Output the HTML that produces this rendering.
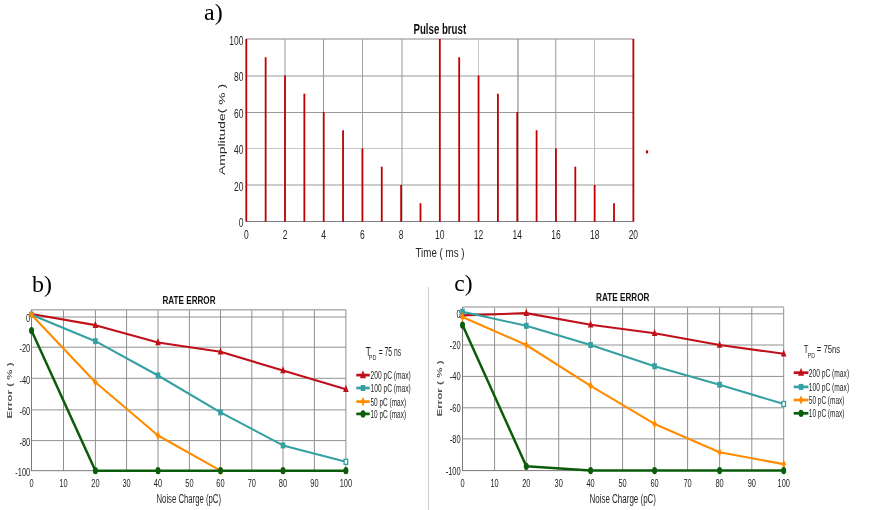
<!DOCTYPE html>
<html><head><meta charset="utf-8"><title>Pulse burst and rate error charts</title>
<style>
html,body{margin:0;padding:0;background:#fff;}
body{width:876px;height:510px;overflow:hidden;}
svg{display:block;}
</style></head>
<body>
<svg width="876" height="510" viewBox="0 0 876 510">
<rect width="876" height="510" fill="#fff"/>
<line x1="246.29" y1="39" x2="633.37" y2="39" stroke="#888" stroke-width="1" />
<line x1="246.29" y1="76" x2="633.37" y2="76" stroke="#999" stroke-width="1" />
<line x1="246.29" y1="112.5" x2="633.37" y2="112.5" stroke="#999" stroke-width="1" />
<line x1="246.29" y1="148.5" x2="633.37" y2="148.5" stroke="#c8c8c8" stroke-width="1" />
<line x1="246.29" y1="185" x2="633.37" y2="185" stroke="#999" stroke-width="1" />
<line x1="285" y1="39" x2="285" y2="221.5" stroke="#999" stroke-width="1" />
<line x1="323.5" y1="39" x2="323.5" y2="221.5" stroke="#999" stroke-width="1" />
<line x1="362.5" y1="39" x2="362.5" y2="221.5" stroke="#a0a0a0" stroke-width="1" />
<line x1="402" y1="39" x2="402" y2="221.5" stroke="#999" stroke-width="1" />
<line x1="478.5" y1="39" x2="478.5" y2="221.5" stroke="#c8c8c8" stroke-width="1" />
<line x1="518" y1="39" x2="518" y2="221.5" stroke="#888" stroke-width="1.1" />
<line x1="555.8" y1="39" x2="555.8" y2="221.5" stroke="#999" stroke-width="1" />
<line x1="594.5" y1="39" x2="594.5" y2="221.5" stroke="#bbb" stroke-width="1" />
<line x1="246.29" y1="221.5" x2="633.37" y2="221.5" stroke="#7f7f7f" stroke-width="1" />
<line x1="246.29" y1="39" x2="246.29" y2="221.7" stroke="#c00000" stroke-width="1.8" />
<line x1="265.64" y1="57.24" x2="265.64" y2="221.7" stroke="#c00000" stroke-width="1.8" />
<line x1="285" y1="75.48" x2="285" y2="221.7" stroke="#c00000" stroke-width="1.8" />
<line x1="304.35" y1="93.72" x2="304.35" y2="221.7" stroke="#c00000" stroke-width="1.8" />
<line x1="323.71" y1="111.96" x2="323.71" y2="221.7" stroke="#c00000" stroke-width="1.8" />
<line x1="343.06" y1="130.2" x2="343.06" y2="221.7" stroke="#c00000" stroke-width="1.8" />
<line x1="362.41" y1="148.44" x2="362.41" y2="221.7" stroke="#c00000" stroke-width="1.8" />
<line x1="381.77" y1="166.68" x2="381.77" y2="221.7" stroke="#c00000" stroke-width="1.8" />
<line x1="401.12" y1="184.92" x2="401.12" y2="221.7" stroke="#c00000" stroke-width="1.8" />
<line x1="420.48" y1="203.16" x2="420.48" y2="221.7" stroke="#c00000" stroke-width="1.8" />
<line x1="439.83" y1="39" x2="439.83" y2="221.7" stroke="#c00000" stroke-width="1.8" />
<line x1="459.18" y1="57.24" x2="459.18" y2="221.7" stroke="#c00000" stroke-width="1.8" />
<line x1="478.54" y1="75.48" x2="478.54" y2="221.7" stroke="#c00000" stroke-width="1.8" />
<line x1="497.89" y1="93.72" x2="497.89" y2="221.7" stroke="#c00000" stroke-width="1.8" />
<line x1="517.25" y1="111.96" x2="517.25" y2="221.7" stroke="#c00000" stroke-width="1.8" />
<line x1="536.6" y1="130.2" x2="536.6" y2="221.7" stroke="#c00000" stroke-width="1.8" />
<line x1="555.95" y1="148.44" x2="555.95" y2="221.7" stroke="#c00000" stroke-width="1.8" />
<line x1="575.31" y1="166.68" x2="575.31" y2="221.7" stroke="#c00000" stroke-width="1.8" />
<line x1="594.66" y1="184.92" x2="594.66" y2="221.7" stroke="#c00000" stroke-width="1.8" />
<line x1="614.02" y1="203.16" x2="614.02" y2="221.7" stroke="#c00000" stroke-width="1.8" />
<line x1="633.37" y1="39" x2="633.37" y2="221.7" stroke="#c00000" stroke-width="1.8" />
<rect x="645.9" y="150.4" width="2.2" height="3" fill="#c00000"/>
<text transform="translate(243.4 227.1) scale(0.68 1)" font-family="'Liberation Sans', Arial, sans-serif" font-size="12.5" font-weight="normal" fill="#262626" text-anchor="end" >0</text>
<text transform="translate(243.4 190.62) scale(0.68 1)" font-family="'Liberation Sans', Arial, sans-serif" font-size="12.5" font-weight="normal" fill="#262626" text-anchor="end" >20</text>
<text transform="translate(243.4 154.14) scale(0.68 1)" font-family="'Liberation Sans', Arial, sans-serif" font-size="12.5" font-weight="normal" fill="#262626" text-anchor="end" >40</text>
<text transform="translate(243.4 117.66) scale(0.68 1)" font-family="'Liberation Sans', Arial, sans-serif" font-size="12.5" font-weight="normal" fill="#262626" text-anchor="end" >60</text>
<text transform="translate(243.4 81.18) scale(0.68 1)" font-family="'Liberation Sans', Arial, sans-serif" font-size="12.5" font-weight="normal" fill="#262626" text-anchor="end" >80</text>
<text transform="translate(243.4 44.7) scale(0.68 1)" font-family="'Liberation Sans', Arial, sans-serif" font-size="12.5" font-weight="normal" fill="#262626" text-anchor="end" >100</text>
<text transform="translate(246.29 238.7) scale(0.68 1)" font-family="'Liberation Sans', Arial, sans-serif" font-size="12.5" font-weight="normal" fill="#262626" text-anchor="middle" >0</text>
<text transform="translate(285 238.7) scale(0.68 1)" font-family="'Liberation Sans', Arial, sans-serif" font-size="12.5" font-weight="normal" fill="#262626" text-anchor="middle" >2</text>
<text transform="translate(323.71 238.7) scale(0.68 1)" font-family="'Liberation Sans', Arial, sans-serif" font-size="12.5" font-weight="normal" fill="#262626" text-anchor="middle" >4</text>
<text transform="translate(362.41 238.7) scale(0.68 1)" font-family="'Liberation Sans', Arial, sans-serif" font-size="12.5" font-weight="normal" fill="#262626" text-anchor="middle" >6</text>
<text transform="translate(401.12 238.7) scale(0.68 1)" font-family="'Liberation Sans', Arial, sans-serif" font-size="12.5" font-weight="normal" fill="#262626" text-anchor="middle" >8</text>
<text transform="translate(439.83 238.7) scale(0.68 1)" font-family="'Liberation Sans', Arial, sans-serif" font-size="12.5" font-weight="normal" fill="#262626" text-anchor="middle" >10</text>
<text transform="translate(478.54 238.7) scale(0.68 1)" font-family="'Liberation Sans', Arial, sans-serif" font-size="12.5" font-weight="normal" fill="#262626" text-anchor="middle" >12</text>
<text transform="translate(517.25 238.7) scale(0.68 1)" font-family="'Liberation Sans', Arial, sans-serif" font-size="12.5" font-weight="normal" fill="#262626" text-anchor="middle" >14</text>
<text transform="translate(555.95 238.7) scale(0.68 1)" font-family="'Liberation Sans', Arial, sans-serif" font-size="12.5" font-weight="normal" fill="#262626" text-anchor="middle" >16</text>
<text transform="translate(594.66 238.7) scale(0.68 1)" font-family="'Liberation Sans', Arial, sans-serif" font-size="12.5" font-weight="normal" fill="#262626" text-anchor="middle" >18</text>
<text transform="translate(633.37 238.7) scale(0.68 1)" font-family="'Liberation Sans', Arial, sans-serif" font-size="12.5" font-weight="normal" fill="#262626" text-anchor="middle" >20</text>
<text transform="translate(413.5 33.7) scale(0.68 1)" font-family="'Liberation Sans', Arial, sans-serif" font-size="14" font-weight="bold" fill="#111" text-anchor="start" textLength="77.35" lengthAdjust="spacingAndGlyphs" >Pulse brust</text>
<text transform="translate(415.5 257) scale(0.68 1)" font-family="'Liberation Sans', Arial, sans-serif" font-size="13.4" font-weight="normal" fill="#262626" text-anchor="start" textLength="72.06" lengthAdjust="spacingAndGlyphs" >Time ( ms )</text>
<text transform="translate(224.7 129.5) scale(0.74 1) rotate(-90)" font-family="'Liberation Sans', Arial, sans-serif" font-size="13.5" font-weight="normal" fill="#262626" text-anchor="middle" textLength="91" lengthAdjust="spacingAndGlyphs">Amplitude( % )</text>
<text transform="translate(204 19.7) scale(1 1)" font-family="'Liberation Serif', 'Times New Roman', serif" font-size="24" font-weight="normal" fill="#000" text-anchor="start" >a)</text>
<line x1="428.5" y1="287" x2="428.5" y2="510" stroke="#cfcfcf" stroke-width="1" />
<line x1="63.5" y1="309.8" x2="63.5" y2="470.7" stroke="#909090" stroke-width="1" />
<line x1="95.4" y1="309.8" x2="95.4" y2="470.7" stroke="#909090" stroke-width="1" />
<line x1="126.6" y1="309.8" x2="126.6" y2="470.7" stroke="#909090" stroke-width="1" />
<line x1="158" y1="309.8" x2="158" y2="470.7" stroke="#909090" stroke-width="1" />
<line x1="189.4" y1="309.8" x2="189.4" y2="470.7" stroke="#909090" stroke-width="1" />
<line x1="220.5" y1="309.8" x2="220.5" y2="470.7" stroke="#909090" stroke-width="1" />
<line x1="251.8" y1="309.8" x2="251.8" y2="470.7" stroke="#909090" stroke-width="1" />
<line x1="283" y1="309.8" x2="283" y2="470.7" stroke="#909090" stroke-width="1" />
<line x1="314.4" y1="309.8" x2="314.4" y2="470.7" stroke="#909090" stroke-width="1" />
<line x1="345.9" y1="309.8" x2="345.9" y2="470.7" stroke="#909090" stroke-width="1" />
<line x1="31.5" y1="317" x2="345.9" y2="317" stroke="#909090" stroke-width="1" />
<line x1="31.5" y1="347.2" x2="345.9" y2="347.2" stroke="#909090" stroke-width="1" />
<line x1="31.5" y1="378.3" x2="345.9" y2="378.3" stroke="#909090" stroke-width="1" />
<line x1="31.5" y1="409.9" x2="345.9" y2="409.9" stroke="#909090" stroke-width="1" />
<line x1="31.5" y1="440.6" x2="345.9" y2="440.6" stroke="#909090" stroke-width="1" />
<line x1="31.5" y1="309.8" x2="345.9" y2="309.8" stroke="#b0b0b0" stroke-width="1.6" />
<line x1="31.5" y1="470.7" x2="345.9" y2="470.7" stroke="#7a7a7a" stroke-width="1" />
<line x1="31.5" y1="309.8" x2="31.5" y2="471.2" stroke="#7a7a7a" stroke-width="1" />
<text transform="translate(30.2 322.2) scale(0.68 1)" font-family="'Liberation Sans', Arial, sans-serif" font-size="11" font-weight="normal" fill="#1e1e1e" text-anchor="end" >0</text>
<text transform="translate(30.2 352.4) scale(0.68 1)" font-family="'Liberation Sans', Arial, sans-serif" font-size="11" font-weight="normal" fill="#1e1e1e" text-anchor="end" >-20</text>
<text transform="translate(30.2 383.5) scale(0.68 1)" font-family="'Liberation Sans', Arial, sans-serif" font-size="11" font-weight="normal" fill="#1e1e1e" text-anchor="end" >-40</text>
<text transform="translate(30.2 415.1) scale(0.68 1)" font-family="'Liberation Sans', Arial, sans-serif" font-size="11" font-weight="normal" fill="#1e1e1e" text-anchor="end" >-60</text>
<text transform="translate(30.2 445.8) scale(0.68 1)" font-family="'Liberation Sans', Arial, sans-serif" font-size="11" font-weight="normal" fill="#1e1e1e" text-anchor="end" >-80</text>
<text transform="translate(30.2 475.9) scale(0.68 1)" font-family="'Liberation Sans', Arial, sans-serif" font-size="11" font-weight="normal" fill="#1e1e1e" text-anchor="end" >-100</text>
<text transform="translate(31.5 487.2) scale(0.63 1)" font-family="'Liberation Sans', Arial, sans-serif" font-size="11.8" font-weight="normal" fill="#1e1e1e" text-anchor="middle" >0</text>
<text transform="translate(63.5 487.2) scale(0.63 1)" font-family="'Liberation Sans', Arial, sans-serif" font-size="11.8" font-weight="normal" fill="#1e1e1e" text-anchor="middle" >10</text>
<text transform="translate(95.4 487.2) scale(0.63 1)" font-family="'Liberation Sans', Arial, sans-serif" font-size="11.8" font-weight="normal" fill="#1e1e1e" text-anchor="middle" >20</text>
<text transform="translate(126.6 487.2) scale(0.63 1)" font-family="'Liberation Sans', Arial, sans-serif" font-size="11.8" font-weight="normal" fill="#1e1e1e" text-anchor="middle" >30</text>
<text transform="translate(158 487.2) scale(0.63 1)" font-family="'Liberation Sans', Arial, sans-serif" font-size="11.8" font-weight="normal" fill="#1e1e1e" text-anchor="middle" >40</text>
<text transform="translate(189.4 487.2) scale(0.63 1)" font-family="'Liberation Sans', Arial, sans-serif" font-size="11.8" font-weight="normal" fill="#1e1e1e" text-anchor="middle" >50</text>
<text transform="translate(220.5 487.2) scale(0.63 1)" font-family="'Liberation Sans', Arial, sans-serif" font-size="11.8" font-weight="normal" fill="#1e1e1e" text-anchor="middle" >60</text>
<text transform="translate(251.8 487.2) scale(0.63 1)" font-family="'Liberation Sans', Arial, sans-serif" font-size="11.8" font-weight="normal" fill="#1e1e1e" text-anchor="middle" >70</text>
<text transform="translate(283 487.2) scale(0.63 1)" font-family="'Liberation Sans', Arial, sans-serif" font-size="11.8" font-weight="normal" fill="#1e1e1e" text-anchor="middle" >80</text>
<text transform="translate(314.4 487.2) scale(0.63 1)" font-family="'Liberation Sans', Arial, sans-serif" font-size="11.8" font-weight="normal" fill="#1e1e1e" text-anchor="middle" >90</text>
<text transform="translate(345.9 487.2) scale(0.63 1)" font-family="'Liberation Sans', Arial, sans-serif" font-size="11.8" font-weight="normal" fill="#1e1e1e" text-anchor="middle" >100</text>
<text transform="translate(162.5 303.7) scale(0.68 1)" font-family="'Liberation Sans', Arial, sans-serif" font-size="11.5" font-weight="bold" fill="#111" text-anchor="start" textLength="77.94" lengthAdjust="spacingAndGlyphs" >RATE ERROR</text>
<text transform="translate(156.5 503.4) scale(0.68 1)" font-family="'Liberation Sans', Arial, sans-serif" font-size="12" font-weight="normal" fill="#262626" text-anchor="start" textLength="94.85" lengthAdjust="spacingAndGlyphs" >Noise Charge (pC)</text>
<text transform="translate(11.8 390.4) scale(0.68 1) rotate(-90)" font-family="'Liberation Sans', Arial, sans-serif" font-size="10.5" font-weight="bold" fill="#555" text-anchor="middle" textLength="56" lengthAdjust="spacingAndGlyphs">Error ( % )</text>
<polyline points="31.5,314 95.4,325.15 158,342.52 220.5,351.71 283,370.52 345.9,389.2" fill="none" stroke="#c0101a" stroke-width="2.1" stroke-linejoin="round" stroke-linecap="round"/>
<polygon points="31.5,309.6 34.3,316.8 28.7,316.8" fill="#c0101a"/>
<polygon points="95.4,320.75 98.2,327.95 92.6,327.95" fill="#c0101a"/>
<polygon points="158,338.12 160.8,345.32 155.2,345.32" fill="#c0101a"/>
<polygon points="220.5,347.31 223.3,354.51 217.7,354.51" fill="#c0101a"/>
<polygon points="283,366.12 285.8,373.32 280.2,373.32" fill="#c0101a"/>
<polygon points="345.9,384.8 348.7,392 343.1,392" fill="#c0101a"/>
<polyline points="31.5,314.75 95.4,341.16 158,375.5 220.5,412.36 283,445.42 345.9,461.82" fill="none" stroke="#35a0a2" stroke-width="2.1" stroke-linejoin="round" stroke-linecap="round"/>
<rect x="29.2" y="311.75" width="4.6" height="6.0" fill="#35a0a2"/>
<rect x="93.1" y="338.16" width="4.6" height="6.0" fill="#35a0a2"/>
<rect x="155.7" y="372.5" width="4.6" height="6.0" fill="#35a0a2"/>
<rect x="218.2" y="409.36" width="4.6" height="6.0" fill="#35a0a2"/>
<rect x="280.7" y="442.42" width="4.6" height="6.0" fill="#35a0a2"/>
<rect x="344.1" y="459.32" width="3.6" height="5.0" fill="#fff" stroke="#35a0a2" stroke-width="1.3"/>
<polyline points="31.5,314.75 95.4,382.25 158,435.53 220.5,470.7" fill="none" stroke="#ff8c00" stroke-width="2.1" stroke-linejoin="round" stroke-linecap="round"/>
<polygon points="31.5,309.95 33,313.55 34.1,314.75 33,315.95 31.5,319.55 30,315.95 28.9,314.75 30,313.55" fill="#ff8c00"/>
<polygon points="95.4,377.45 96.9,381.05 98,382.25 96.9,383.45 95.4,387.05 93.9,383.45 92.8,382.25 93.9,381.05" fill="#ff8c00"/>
<polygon points="158,430.73 159.5,434.33 160.6,435.53 159.5,436.73 158,440.33 156.5,436.73 155.4,435.53 156.5,434.33" fill="#ff8c00"/>
<polygon points="220.5,465.9 222,469.5 223.1,470.7 222,471.9 220.5,475.5 219,471.9 217.9,470.7 219,469.5" fill="#ff8c00"/>
<polyline points="31.5,330.59 95.4,470.7 158,470.7 220.5,470.7 283,470.7 345.9,470.7" fill="none" stroke="#0b5c0b" stroke-width="2.5" stroke-linejoin="round" stroke-linecap="round"/>
<ellipse cx="31.5" cy="330.59" rx="2.5" ry="3.6" fill="#0b5c0b"/>
<ellipse cx="95.4" cy="470.7" rx="2.5" ry="3.6" fill="#0b5c0b"/>
<ellipse cx="158" cy="470.7" rx="2.5" ry="3.6" fill="#0b5c0b"/>
<ellipse cx="220.5" cy="470.7" rx="2.5" ry="3.6" fill="#0b5c0b"/>
<ellipse cx="283" cy="470.7" rx="2.5" ry="3.6" fill="#0b5c0b"/>
<ellipse cx="345.9" cy="470.7" rx="2.5" ry="3.6" fill="#0b5c0b"/>
<line x1="356.3" y1="375.1" x2="369.7" y2="375.1" stroke="#c0101a" stroke-width="2.7" />
<polygon points="363,370.26 366.08,378.18 359.92,378.18" fill="#c0101a"/>
<text transform="translate(370.5 379) scale(0.68 1)" font-family="'Liberation Sans', Arial, sans-serif" font-size="11" font-weight="normal" fill="#1e1e1e" text-anchor="start" textLength="59.26" lengthAdjust="spacingAndGlyphs" >200 pC (max)</text>
<line x1="356.3" y1="388" x2="369.7" y2="388" stroke="#35a0a2" stroke-width="2.7" />
<rect x="360.7" y="385" width="4.6" height="6.0" fill="#35a0a2"/>
<text transform="translate(370.5 391.9) scale(0.68 1)" font-family="'Liberation Sans', Arial, sans-serif" font-size="11" font-weight="normal" fill="#1e1e1e" text-anchor="start" textLength="59.26" lengthAdjust="spacingAndGlyphs" >100 pC (max)</text>
<line x1="356.3" y1="401.6" x2="369.7" y2="401.6" stroke="#ff8c00" stroke-width="2.7" />
<polygon points="363,396.8 364.5,400.4 365.6,401.6 364.5,402.8 363,406.4 361.5,402.8 360.4,401.6 361.5,400.4" fill="#ff8c00"/>
<text transform="translate(370.5 405.5) scale(0.68 1)" font-family="'Liberation Sans', Arial, sans-serif" font-size="11" font-weight="normal" fill="#1e1e1e" text-anchor="start" textLength="52.35" lengthAdjust="spacingAndGlyphs" >50 pC (max)</text>
<line x1="356.3" y1="413.9" x2="369.7" y2="413.9" stroke="#0b5c0b" stroke-width="2.7" />
<ellipse cx="363" cy="413.9" rx="2.5" ry="3.6" fill="#0b5c0b"/>
<text transform="translate(370.5 417.8) scale(0.68 1)" font-family="'Liberation Sans', Arial, sans-serif" font-size="11" font-weight="normal" fill="#1e1e1e" text-anchor="start" textLength="52.35" lengthAdjust="spacingAndGlyphs" >10 pC (max)</text>
<text transform="translate(365.8 356.1) scale(0.68 1)" font-family="'Liberation Sans', Arial, sans-serif" font-size="12" font-weight="normal" fill="#1e1e1e" text-anchor="start" >T</text>
<text transform="translate(368.8 360.4) scale(0.68 1)" font-family="'Liberation Sans', Arial, sans-serif" font-size="8" font-weight="normal" fill="#1e1e1e" text-anchor="start" >PD</text>
<text transform="translate(378.8 356.1) scale(0.68 1)" font-family="'Liberation Sans', Arial, sans-serif" font-size="12" font-weight="normal" fill="#1e1e1e" text-anchor="start" textLength="32.79" lengthAdjust="spacingAndGlyphs" >= 75 ns</text>
<text transform="translate(32 292) scale(1 1)" font-family="'Liberation Serif', 'Times New Roman', serif" font-size="24" font-weight="normal" fill="#000" text-anchor="start" >b)</text>
<line x1="494.6" y1="307" x2="494.6" y2="470.6" stroke="#909090" stroke-width="1" />
<line x1="526.3" y1="307" x2="526.3" y2="470.6" stroke="#909090" stroke-width="1" />
<line x1="558.7" y1="307" x2="558.7" y2="470.6" stroke="#909090" stroke-width="1" />
<line x1="590.6" y1="307" x2="590.6" y2="470.6" stroke="#909090" stroke-width="1" />
<line x1="622.6" y1="307" x2="622.6" y2="470.6" stroke="#909090" stroke-width="1" />
<line x1="654.6" y1="307" x2="654.6" y2="470.6" stroke="#909090" stroke-width="1" />
<line x1="687.6" y1="307" x2="687.6" y2="470.6" stroke="#909090" stroke-width="1" />
<line x1="719.6" y1="307" x2="719.6" y2="470.6" stroke="#909090" stroke-width="1" />
<line x1="751.8" y1="307" x2="751.8" y2="470.6" stroke="#909090" stroke-width="1" />
<line x1="783.7" y1="307" x2="783.7" y2="470.6" stroke="#909090" stroke-width="1" />
<line x1="462.5" y1="313.8" x2="783.7" y2="313.8" stroke="#909090" stroke-width="1" />
<line x1="462.5" y1="345" x2="783.7" y2="345" stroke="#909090" stroke-width="1" />
<line x1="462.5" y1="376.4" x2="783.7" y2="376.4" stroke="#909090" stroke-width="1" />
<line x1="462.5" y1="407.8" x2="783.7" y2="407.8" stroke="#909090" stroke-width="1" />
<line x1="462.5" y1="438.9" x2="783.7" y2="438.9" stroke="#909090" stroke-width="1" />
<line x1="462.5" y1="307" x2="783.7" y2="307" stroke="#b0b0b0" stroke-width="1.6" />
<line x1="462.5" y1="470.6" x2="783.7" y2="470.6" stroke="#7a7a7a" stroke-width="1" />
<line x1="462.5" y1="307" x2="462.5" y2="471.1" stroke="#7a7a7a" stroke-width="1" />
<text transform="translate(460.6 317.8) scale(0.68 1)" font-family="'Liberation Sans', Arial, sans-serif" font-size="11" font-weight="normal" fill="#1e1e1e" text-anchor="end" >0</text>
<text transform="translate(460.6 349) scale(0.68 1)" font-family="'Liberation Sans', Arial, sans-serif" font-size="11" font-weight="normal" fill="#1e1e1e" text-anchor="end" >-20</text>
<text transform="translate(460.6 380.4) scale(0.68 1)" font-family="'Liberation Sans', Arial, sans-serif" font-size="11" font-weight="normal" fill="#1e1e1e" text-anchor="end" >-40</text>
<text transform="translate(460.6 411.8) scale(0.68 1)" font-family="'Liberation Sans', Arial, sans-serif" font-size="11" font-weight="normal" fill="#1e1e1e" text-anchor="end" >-60</text>
<text transform="translate(460.6 442.9) scale(0.68 1)" font-family="'Liberation Sans', Arial, sans-serif" font-size="11" font-weight="normal" fill="#1e1e1e" text-anchor="end" >-80</text>
<text transform="translate(460.6 474.6) scale(0.68 1)" font-family="'Liberation Sans', Arial, sans-serif" font-size="11" font-weight="normal" fill="#1e1e1e" text-anchor="end" >-100</text>
<text transform="translate(462.5 487.2) scale(0.63 1)" font-family="'Liberation Sans', Arial, sans-serif" font-size="11.8" font-weight="normal" fill="#1e1e1e" text-anchor="middle" >0</text>
<text transform="translate(494.6 487.2) scale(0.63 1)" font-family="'Liberation Sans', Arial, sans-serif" font-size="11.8" font-weight="normal" fill="#1e1e1e" text-anchor="middle" >10</text>
<text transform="translate(526.3 487.2) scale(0.63 1)" font-family="'Liberation Sans', Arial, sans-serif" font-size="11.8" font-weight="normal" fill="#1e1e1e" text-anchor="middle" >20</text>
<text transform="translate(558.7 487.2) scale(0.63 1)" font-family="'Liberation Sans', Arial, sans-serif" font-size="11.8" font-weight="normal" fill="#1e1e1e" text-anchor="middle" >30</text>
<text transform="translate(590.6 487.2) scale(0.63 1)" font-family="'Liberation Sans', Arial, sans-serif" font-size="11.8" font-weight="normal" fill="#1e1e1e" text-anchor="middle" >40</text>
<text transform="translate(622.6 487.2) scale(0.63 1)" font-family="'Liberation Sans', Arial, sans-serif" font-size="11.8" font-weight="normal" fill="#1e1e1e" text-anchor="middle" >50</text>
<text transform="translate(654.6 487.2) scale(0.63 1)" font-family="'Liberation Sans', Arial, sans-serif" font-size="11.8" font-weight="normal" fill="#1e1e1e" text-anchor="middle" >60</text>
<text transform="translate(687.6 487.2) scale(0.63 1)" font-family="'Liberation Sans', Arial, sans-serif" font-size="11.8" font-weight="normal" fill="#1e1e1e" text-anchor="middle" >70</text>
<text transform="translate(719.6 487.2) scale(0.63 1)" font-family="'Liberation Sans', Arial, sans-serif" font-size="11.8" font-weight="normal" fill="#1e1e1e" text-anchor="middle" >80</text>
<text transform="translate(751.8 487.2) scale(0.63 1)" font-family="'Liberation Sans', Arial, sans-serif" font-size="11.8" font-weight="normal" fill="#1e1e1e" text-anchor="middle" >90</text>
<text transform="translate(783.7 487.2) scale(0.63 1)" font-family="'Liberation Sans', Arial, sans-serif" font-size="11.8" font-weight="normal" fill="#1e1e1e" text-anchor="middle" >100</text>
<text transform="translate(596 300.7) scale(0.68 1)" font-family="'Liberation Sans', Arial, sans-serif" font-size="11.5" font-weight="bold" fill="#111" text-anchor="start" textLength="78.68" lengthAdjust="spacingAndGlyphs" >RATE ERROR</text>
<text transform="translate(589.5 503.3) scale(0.68 1)" font-family="'Liberation Sans', Arial, sans-serif" font-size="12" font-weight="normal" fill="#262626" text-anchor="start" textLength="97.79" lengthAdjust="spacingAndGlyphs" >Noise Charge (pC)</text>
<text transform="translate(442.4 388.5) scale(0.68 1) rotate(-90)" font-family="'Liberation Sans', Arial, sans-serif" font-size="10.5" font-weight="bold" fill="#555" text-anchor="middle" textLength="56" lengthAdjust="spacingAndGlyphs">Error ( % )</text>
<polyline points="462.5,315.36 526.3,313.12 590.6,324.72 654.6,333.3 719.6,345 783.7,353.79" fill="none" stroke="#c0101a" stroke-width="2.1" stroke-linejoin="round" stroke-linecap="round"/>
<polygon points="462.5,310.96 465.3,318.16 459.7,318.16" fill="#c0101a"/>
<polygon points="526.3,308.72 529.1,315.92 523.5,315.92" fill="#c0101a"/>
<polygon points="590.6,320.32 593.4,327.52 587.8,327.52" fill="#c0101a"/>
<polygon points="654.6,328.9 657.4,336.1 651.8,336.1" fill="#c0101a"/>
<polygon points="719.6,340.6 722.4,347.8 716.8,347.8" fill="#c0101a"/>
<polygon points="783.7,349.39 786.5,356.59 780.9,356.59" fill="#c0101a"/>
<polyline points="462.5,311.76 526.3,325.81 590.6,345 654.6,366.19 719.6,384.72 783.7,404.03" fill="none" stroke="#35a0a2" stroke-width="2.1" stroke-linejoin="round" stroke-linecap="round"/>
<rect x="460.2" y="308.76" width="4.6" height="6.0" fill="#35a0a2"/>
<rect x="524" y="322.81" width="4.6" height="6.0" fill="#35a0a2"/>
<rect x="588.3" y="342" width="4.6" height="6.0" fill="#35a0a2"/>
<rect x="652.3" y="363.19" width="4.6" height="6.0" fill="#35a0a2"/>
<rect x="717.3" y="381.72" width="4.6" height="6.0" fill="#35a0a2"/>
<rect x="781.9" y="401.53" width="3.6" height="5.0" fill="#fff" stroke="#35a0a2" stroke-width="1.3"/>
<polyline points="462.5,316.92 526.3,345 590.6,385.82 654.6,423.97 719.6,452.21 783.7,464.1" fill="none" stroke="#ff8c00" stroke-width="2.1" stroke-linejoin="round" stroke-linecap="round"/>
<polygon points="462.5,312.12 464,315.72 465.1,316.92 464,318.12 462.5,321.72 461,318.12 459.9,316.92 461,315.72" fill="#ff8c00"/>
<polygon points="526.3,340.2 527.8,343.8 528.9,345 527.8,346.2 526.3,349.8 524.8,346.2 523.7,345 524.8,343.8" fill="#ff8c00"/>
<polygon points="590.6,381.02 592.1,384.62 593.2,385.82 592.1,387.02 590.6,390.62 589.1,387.02 588,385.82 589.1,384.62" fill="#ff8c00"/>
<polygon points="654.6,419.17 656.1,422.77 657.2,423.97 656.1,425.17 654.6,428.77 653.1,425.17 652,423.97 653.1,422.77" fill="#ff8c00"/>
<polygon points="719.6,447.41 721.1,451.01 722.2,452.21 721.1,453.41 719.6,457.01 718.1,453.41 717,452.21 718.1,451.01" fill="#ff8c00"/>
<polygon points="783.7,459.3 785.2,462.9 786.3,464.1 785.2,465.3 783.7,468.9 782.2,465.3 781.1,464.1 782.2,462.9" fill="#ff8c00"/>
<polyline points="462.5,325.03 526.3,466.32 590.6,470.6 654.6,470.6 719.6,470.6 783.7,470.6" fill="none" stroke="#0b5c0b" stroke-width="2.5" stroke-linejoin="round" stroke-linecap="round"/>
<ellipse cx="462.5" cy="325.03" rx="2.5" ry="3.6" fill="#0b5c0b"/>
<ellipse cx="526.3" cy="466.32" rx="2.5" ry="3.6" fill="#0b5c0b"/>
<ellipse cx="590.6" cy="470.6" rx="2.5" ry="3.6" fill="#0b5c0b"/>
<ellipse cx="654.6" cy="470.6" rx="2.5" ry="3.6" fill="#0b5c0b"/>
<ellipse cx="719.6" cy="470.6" rx="2.5" ry="3.6" fill="#0b5c0b"/>
<ellipse cx="783.7" cy="470.6" rx="2.5" ry="3.6" fill="#0b5c0b"/>
<line x1="793.7" y1="372.7" x2="808.4" y2="372.7" stroke="#c0101a" stroke-width="2.7" />
<polygon points="801.05,367.86 804.13,375.78 797.97,375.78" fill="#c0101a"/>
<text transform="translate(808.8 376.6) scale(0.68 1)" font-family="'Liberation Sans', Arial, sans-serif" font-size="11" font-weight="normal" fill="#1e1e1e" text-anchor="start" textLength="59.26" lengthAdjust="spacingAndGlyphs" >200 pC (max)</text>
<line x1="793.7" y1="386.9" x2="808.4" y2="386.9" stroke="#35a0a2" stroke-width="2.7" />
<rect x="798.75" y="383.9" width="4.6" height="6.0" fill="#35a0a2"/>
<text transform="translate(808.8 390.8) scale(0.68 1)" font-family="'Liberation Sans', Arial, sans-serif" font-size="11" font-weight="normal" fill="#1e1e1e" text-anchor="start" textLength="59.26" lengthAdjust="spacingAndGlyphs" >100 pC (max)</text>
<line x1="793.7" y1="400" x2="808.4" y2="400" stroke="#ff8c00" stroke-width="2.7" />
<polygon points="801.05,395.2 802.55,398.8 803.65,400 802.55,401.2 801.05,404.8 799.55,401.2 798.45,400 799.55,398.8" fill="#ff8c00"/>
<text transform="translate(808.8 403.9) scale(0.68 1)" font-family="'Liberation Sans', Arial, sans-serif" font-size="11" font-weight="normal" fill="#1e1e1e" text-anchor="start" textLength="52.35" lengthAdjust="spacingAndGlyphs" >50 pC (max)</text>
<line x1="793.7" y1="413.3" x2="808.4" y2="413.3" stroke="#0b5c0b" stroke-width="2.7" />
<ellipse cx="801.05" cy="413.3" rx="2.5" ry="3.6" fill="#0b5c0b"/>
<text transform="translate(808.8 417.2) scale(0.68 1)" font-family="'Liberation Sans', Arial, sans-serif" font-size="11" font-weight="normal" fill="#1e1e1e" text-anchor="start" textLength="52.35" lengthAdjust="spacingAndGlyphs" >10 pC (max)</text>
<text transform="translate(803.8 353.2) scale(0.68 1)" font-family="'Liberation Sans', Arial, sans-serif" font-size="11.3" font-weight="normal" fill="#1e1e1e" text-anchor="start" >T</text>
<text transform="translate(807.8 357.5) scale(0.68 1)" font-family="'Liberation Sans', Arial, sans-serif" font-size="7.5" font-weight="normal" fill="#1e1e1e" text-anchor="start" >PD</text>
<text transform="translate(816.8 353.2) scale(0.68 1)" font-family="'Liberation Sans', Arial, sans-serif" font-size="11.3" font-weight="normal" fill="#1e1e1e" text-anchor="start" textLength="34.12" lengthAdjust="spacingAndGlyphs" >= 75ns</text>
<text transform="translate(454.3 291.2) scale(1 1)" font-family="'Liberation Serif', 'Times New Roman', serif" font-size="23.5" font-weight="normal" fill="#000" text-anchor="start" >c)</text>
</svg>
</body></html>
